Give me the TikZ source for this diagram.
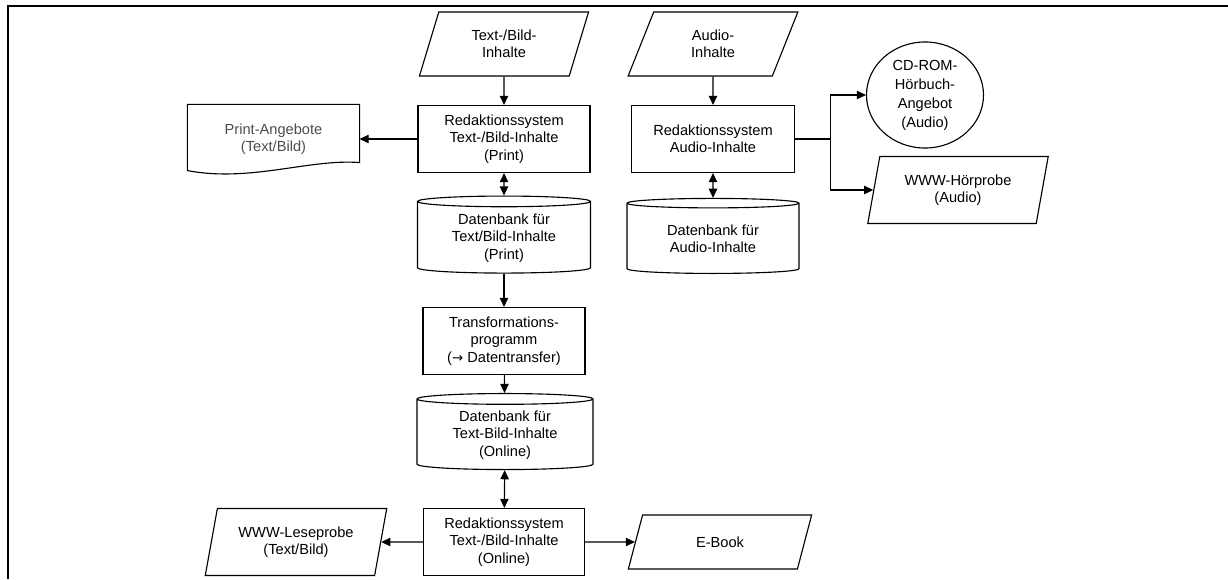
\documentclass[tikz,border=0pt]{standalone}
\usepackage{fontspec}
\setmainfont{Liberation Sans}
\newfontfamily\symfont{DejaVu Sans}
\usetikzlibrary{shapes.geometric, arrows.meta, calc}

\begin{document}
\begin{tikzpicture}[
    x=0.025cm, y=-0.025cm,
    font=\fontsize{10.4}{12.4}\selectfont,
    every node/.style={align=center, line width=0.8pt},
    proc/.style={rectangle, draw, minimum height=1.675cm, inner sep=1pt},
    io/.style={trapezium, draw, trapezium left angle=72, trapezium right angle=108,
               trapezium stretches=true, minimum height=1.6cm, inner sep=1pt},
    db/.style={cylinder, draw, shape border rotate=90, aspect=0.1, inner sep=1pt},
    doc/.style={rectangle, minimum width=4.275cm, minimum height=1.7cm, text=black!70},
    arrow/.style={-{Triangle[length=6.5pt, width=6pt]}, line width=0.8pt},
    darrow/.style={{Triangle[length=6.5pt, width=6pt]}-{Triangle[length=6.5pt, width=6pt]}, line width=0.8pt},
    frame/.style={line width=1.5pt}
]
\useasboundingbox (0,0) rectangle (1228,579);
\draw[frame] (1228,6) -- (8,6) -- (8,579);

% Text/Bild column
\node[io, minimum width=4.25cm] (tb) at (504,44) {Text-/Bild-\\Inhalte};
\node[proc, minimum width=4.3cm] (rp) at (504,139) {Redaktionssystem\\Text-/Bild-Inhalte\\(Print)};
\node[db, minimum width=4.325cm, minimum height=1.925cm] (dbp) at (504,238) {Datenbank für\\Text/Bild-Inhalte\\(Print)};
\node[proc, minimum width=4.05cm] (tr) at (504,341) {Transformations-\\programm\\({\symfont\fontsize{9.5}{12}\selectfont →} Datentransfer)};
\node[db, minimum width=4.4cm, minimum height=1.9cm] (dbo) at (505,435) {Datenbank für\\Text-Bild-Inhalte\\(Online)};
\node[proc, minimum width=4.025cm] (ro) at (504,542) {Redaktionssystem\\Text-/Bild-Inhalte\\(Online)};

% outputs text/bild
\node[doc] (pa) at (273.5,139) {Print-Angebote\\(Text/Bild)};
\draw[line width=0.8pt] (pa.north west) -- (pa.north east) -- ($(pa.south east)+(0,-11)$)
    .. controls ($(pa.south)+(36.5,-15)$) and ($(pa.south)+(-23.5,9)$) .. ($(pa.south west)+(0,-3)$) -- cycle;
\node[io, minimum width=4.55cm, minimum height=1.675cm, trapezium left angle=75, trapezium right angle=105] (ws) at (296,542) {WWW-Leseprobe\\(Text/Bild)};
\node[io, minimum width=4.6cm, minimum height=1.35cm, trapezium left angle=71, trapezium right angle=109] (eb) at (720,542) {E-Book};

% Audio column
\node[io, minimum width=4.25cm] (ai) at (713,44) {Audio-\\Inhalte};
\node[proc, minimum width=4.075cm] (ar) at (713,139) {Redaktionssystem\\Audio-Inhalte};
\node[db, minimum width=4.3cm, minimum height=1.875cm] (dba) at (713,239) {Datenbank für\\Audio-Inhalte};
\node[ellipse, draw, minimum width=2.925cm, minimum height=2.65cm, inner sep=0pt,
      font=\fontsize{10.4}{13.5}\selectfont] (cd) at (925,95) {CD-ROM-\\Hörbuch-\\Angebot\\(Audio)};
\node[io, minimum width=4.55cm, minimum height=1.675cm, trapezium left angle=76, trapezium right angle=104] (hp) at (958,190) {WWW-Hörprobe\\(Audio)};
\coordinate (sp) at ($(ar.east)+(35,0)$);

% connectors
\draw[arrow] (tb) -- (rp);
\draw[darrow] (rp) -- (dbp);
\draw[arrow] (dbp) -- (tr);
\draw[arrow] (tr) -- (dbo);
\draw[darrow] (dbo) -- (ro);
\draw[arrow] (rp.west) -- (rp.west -| pa.east);
\draw[arrow] (ro) -- (ws);
\draw[arrow] (ro) -- (eb);

\draw[arrow] (ai) -- (ar);
\draw[darrow] (ar) -- (dba);
\draw[line width=0.8pt] (ar.east) -- (sp);
\draw[arrow] (sp) |- (cd);
\draw[arrow] (sp) |- (hp);

\end{tikzpicture}
\end{document}
